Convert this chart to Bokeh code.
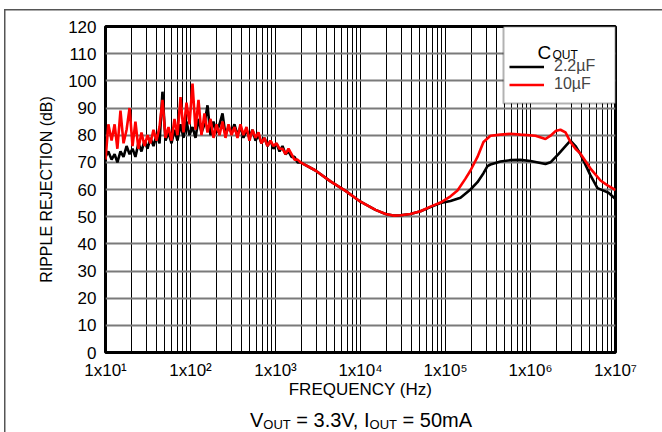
from bokeh.plotting import figure
from bokeh.layouts import column
from bokeh.models import (Label, Legend, LegendItem, FixedTicker, BoxAnnotation, Range1d, Div)
from bokeh.embed import file_html
from bokeh.resources import INLINE

# ---------------- data ----------------
freq_noise = [10.0, 10.8, 11.8, 12.8, 13.8, 15.0, 16.3, 17.7, 19.2, 20.8, 22.5, 24.4, 26.5, 28.8,
              31.2, 33.8, 36.7, 39.8, 43.2, 46.8, 50.8, 55.1, 59.8, 64.8, 70.3, 76.3, 82.7, 89.7,
              97.3, 105.6, 114.5, 124.2, 134.7, 146.1, 158.5, 171.9, 186.5, 202.3, 219.4, 238,
              258, 280, 304, 329, 357, 387, 420, 456, 494, 536, 582, 631, 684, 742, 805, 873,
              947, 1027, 1115, 1209, 1311, 1422, 1543, 1673, 1815]
rej_noise_2u2 = [72, 74, 71, 73, 70, 74, 72, 76, 73, 75, 72, 77, 74, 78,
                 75, 79, 76, 80, 77, 96, 78, 81, 77, 82, 78, 84, 79, 85,
                 80, 83, 79, 86, 81, 84, 91, 80, 85, 81, 84, 88,
                 80, 83, 81, 84, 80, 83, 79, 82, 79, 82, 78, 80, 77, 79, 76, 78,
                 75, 77, 74, 76, 73, 74, 72, 72, 70]
rej_noise_10u = [71, 84, 78, 84, 75, 89, 77, 82, 90, 76, 85, 75, 81, 76,
                 80, 77, 82, 78, 83, 93, 79, 83, 78, 86, 80, 94, 81, 92,
                 84, 99, 82, 93, 80, 88, 81, 86, 79, 84, 80, 85,
                 79, 84, 80, 83, 79, 84, 80, 83, 78, 82, 79, 81, 77, 79, 76, 78,
                 76, 77, 75, 75, 73, 75, 73, 71, 71]

freq_smooth_2u2 = [1969, 2955, 4437, 6660, 10000, 15010, 19700, 24400, 29560, 38700, 50800,
                   66600, 87300, 114600, 150100, 196800, 237800, 279800, 311800, 338100,
                   443600, 582300, 762800, 1.0e6, 1.5e6, 1.72e6, 2.13e6, 2.58e6, 2.95e6,
                   3.38e6, 3.87e6, 5.08e6, 6.14e6, 7.23e6, 8.28e6, 1.0e7]
rej_smooth_2u2 = [70, 67, 63, 59.5, 55.5, 52.5, 51, 50.4, 50.5, 51, 52,
                  53.5, 55, 55.8, 57, 60, 62.7, 66, 68.6, 69.2,
                  70.3, 70.8, 70.9, 70.5, 69.4, 70, 73, 76, 78,
                  76, 73, 65.2, 60.5, 59.6, 58.8, 56.5]

freq_smooth_10u = [1969, 2955, 4437, 6660, 10000, 15010, 19700, 24400, 29560, 38700, 50800,
                   66600, 87300, 114600, 138400, 171800, 196800, 237800, 279800, 338100,
                   443600, 582300, 762800, 1.146e6, 1.5e6, 1.72e6, 1.97e6, 2.25e6, 2.58e6,
                   2.95e6, 3.38e6, 3.87e6, 5.08e6, 6.66e6, 8.06e6, 1.0e7]
rej_smooth_10u = [70, 67, 63, 59.5, 55.5, 52.5, 51, 50.4, 50.5, 51, 52,
                  53.7, 55.2, 57.5, 59.6, 64, 67, 72, 77.5, 79.8,
                  80.2, 80.5, 80.2, 79.8, 78.6, 79.8, 81.5, 82, 81,
                  77.5, 75, 73.2, 67.7, 63.3, 61.5, 59.8]

freq_2u2 = freq_noise + freq_smooth_2u2
rej_2u2 = rej_noise_2u2 + rej_smooth_2u2
freq_10u = freq_noise + freq_smooth_10u
rej_10u = rej_noise_10u + rej_smooth_10u

x_decades = [1, 2, 3, 4, 5, 6, 7]
x_tick_labels = ["1x10\u00b9", "1x10\u00b2", "1x10\u00b3", "1x10\u2074",
                 "1x10\u2075", "1x10\u2076", "1x10\u2077"]
y_ticks = [0, 10, 20, 30, 40, 50, 60, 70, 80, 90, 100, 110, 120]
legend_labels = ["2.2\u00b5F", "10\u00b5F"]
SUB = '<span style="font-size:13px;line-height:13px;vertical-align:-2px">OUT</span>'
condition_html = f"V{SUB} = 3.3V, I{SUB} = 50mA"

# ---------------- layout ----------------
W, H = 662, 432
PH = 407                      # figure height, condition line below it
FX0, FX1, FY0, FY1 = 105, 615, 26, 352
FONT = "Liberation Sans"

p = figure(width=W, height=PH, x_axis_type="log", output_backend="svg", toolbar_location=None,
           x_range=Range1d(10.0, 1.0e7), y_range=Range1d(0, 120),
           min_border_left=FX0, min_border_right=W - FX1, min_border_top=FY0,
           min_border_bottom=PH - FY1)
p.background_fill_color = "white"
p.border_fill_alpha = 0
p.outline_line_color = "black"
p.outline_line_width = 3

minor = [m * 10 ** k for k in range(1, 7) for m in range(2, 10)]
xt = FixedTicker(ticks=[10 ** k for k in x_decades], minor_ticks=minor)
p.xaxis.ticker = xt
p.xgrid.ticker = xt
p.xaxis.major_label_overrides = {10 ** k: t for k, t in zip(x_decades, x_tick_labels)}
p.xgrid.grid_line_color = "black"
p.xgrid.grid_line_width = 1
p.xgrid.minor_grid_line_color = "black"
p.xgrid.minor_grid_line_width = 1
p.xaxis.axis_line_color = None
p.xaxis.major_tick_line_color = None
p.xaxis.minor_tick_line_color = None
p.xaxis.major_tick_out = 0
p.xaxis.minor_tick_out = 0
p.xaxis.major_label_text_font = FONT
p.xaxis.major_label_text_font_size = "17px"
p.xaxis.major_label_text_color = "black"
p.xaxis.major_label_standoff = 8
p.xaxis.axis_label = "FREQUENCY (Hz)"
p.xaxis.axis_label_text_font = FONT
p.xaxis.axis_label_text_font_size = "17px"
p.xaxis.axis_label_text_font_style = "normal"
p.xaxis.axis_label_text_color = "black"
p.xaxis.axis_label_standoff = -3

p.yaxis.ticker = FixedTicker(ticks=y_ticks)
p.ygrid.grid_line_color = "#7a7a7a"
p.ygrid.grid_line_width = 2
p.yaxis.axis_line_color = None
p.yaxis.major_tick_line_color = None
p.yaxis.minor_tick_line_color = None
p.yaxis.major_tick_out = 0
p.yaxis.minor_tick_out = 0
p.yaxis.major_label_text_font = FONT
p.yaxis.major_label_text_font_size = "17px"
p.yaxis.major_label_text_color = "black"
p.yaxis.major_label_standoff = 9
p.yaxis.axis_label = "RIPPLE REJECTION (dB)"
p.yaxis.axis_label_text_font = FONT
p.yaxis.axis_label_text_font_size = "16px"
p.yaxis.axis_label_text_font_style = "normal"
p.yaxis.axis_label_text_color = "black"
p.yaxis.axis_label_standoff = 10

r_black = p.line(freq_2u2, rej_2u2, line_color="black", line_width=2.6)
r_red = p.line(freq_10u, rej_10u, line_color="#ff0000", line_width=2.6)


def fx(px):
    return 10 ** (1 + 6 * (px - FX0) / (FX1 - FX0))


def fy(py):
    return 120 * (FY1 - py) / (FY1 - FY0)


# legend box (white, black border) + legend entries + title C_OUT
p.add_layout(BoxAnnotation(left=fx(503), right=fx(615), top=fy(26), bottom=fy(103),
                           fill_color="white", fill_alpha=1, line_color="black", line_width=2))
legend = Legend(items=[LegendItem(label=legend_labels[0], renderers=[r_black]),
                       LegendItem(label=legend_labels[1], renderers=[r_red])],
                location=(404, 259))
legend.margin = 0
legend.padding = 4
legend.spacing = 0
legend.glyph_width = 35
legend.glyph_height = 17
legend.label_height = 17
legend.label_width = 47
legend.label_standoff = 10
legend.label_text_font = FONT
legend.label_text_font_size = "16px"
legend.label_text_line_height = 1.0
legend.border_line_color = None
legend.background_fill_alpha = 0
p.add_layout(legend)


def canvas_label(px, py, text, size, align="left"):
    p.add_layout(Label(x=px, y=py, x_units="canvas", y_units="canvas", text=text,
                       text_font=FONT, text_font_size=f"{size}px", text_align=align,
                       text_baseline="alphabetic", text_color="black"))


canvas_label(537, 52, "C", 19)
canvas_label(552, 54, "OUT", 12)

div = Div(text=condition_html, width=W, height=H - PH,
          styles={"font-family": FONT, "font-size": "20px", "color": "black",
                  "text-align": "center", "line-height": "17px", "padding-top": "0px",
                  "padding-left": "50px", "box-sizing": "border-box",
                  "white-space": "nowrap", "overflow": "visible"})

layout = column(p, div, spacing=0,
                styles={"background": "linear-gradient(#555,#555) 4px 9px / 100% 1.5px no-repeat,"
                                      " linear-gradient(#555,#555) 4px 9px / 1.5px 100% no-repeat"})

open("out.html", "w").write(file_html(layout, INLINE))
